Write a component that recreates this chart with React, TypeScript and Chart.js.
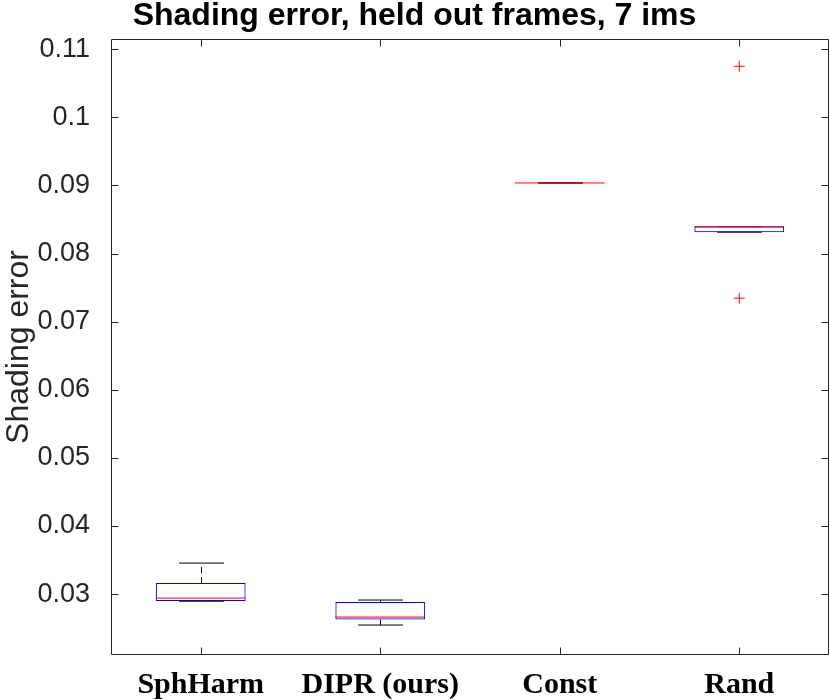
import React, { useEffect, useRef } from "react";
import { Chart, registerables } from "chart.js";

Chart.register(...registerables);

// ---- data ----
const categories = ["SphHarm", "DIPR (ours)", "Const", "Rand"];
const whiskerLow = [0.02895, 0.02545, 0.09037, 0.08314];
const quartile1 = [0.02897, 0.02627, 0.09037, 0.08314];
const medians = [0.02941, 0.02662, 0.09037, 0.08396];
const quartile3 = [0.03161, 0.02882, 0.09037, 0.08396];
const whiskerHigh = [0.03455, 0.02912, 0.09037, 0.08396];
const outlierCategories = ["Rand", "Rand"];
const outlierValues = [0.1075, 0.07345];
const yTickValues = [0.03, 0.04, 0.05, 0.06, 0.07, 0.08, 0.09, 0.1, 0.11];
const yRange = [0.02105, 0.11151];
const titleText = "Shading error, held out frames, 7 ims";
const yAxisTitle = "Shading error";

const AXIS_COLOR = "#262626";

const boxPlugin = {
  id: "boxWhiskers",
  beforeDatasetsDraw(chart: any) {
    const ctx = chart.ctx;
    const xs = chart.scales.x;
    const ys = chart.scales.y;
    const meta = chart.getDatasetMeta(0);
    ctx.save();
    ctx.strokeStyle = "#000000";
    ctx.lineWidth = 1;
    categories.forEach((_, i) => {
      const bar = meta.data[i];
      const half = bar ? bar.width / 2 : 45;
      const x = Math.round(xs.getPixelForValue(i)) + 0.5;
      const cap = half / 2;
      const yLo = ys.getPixelForValue(whiskerLow[i]);
      const yQ1 = ys.getPixelForValue(quartile1[i]);
      const yQ3 = ys.getPixelForValue(quartile3[i]);
      const yHi = ys.getPixelForValue(whiskerHigh[i]);
      ctx.setLineDash([6, 4]);
      ctx.beginPath();
      ctx.moveTo(x, yQ3);
      ctx.lineTo(x, yHi);
      ctx.moveTo(x, yQ1);
      ctx.lineTo(x, yLo);
      ctx.stroke();
      ctx.setLineDash([]);
      ctx.beginPath();
      ctx.moveTo(x - cap, yHi);
      ctx.lineTo(x + cap, yHi);
      ctx.moveTo(x - cap, yLo);
      ctx.lineTo(x + cap, yLo);
      ctx.stroke();
    });
    ctx.restore();
  },
  afterDatasetsDraw(chart: any) {
    const ctx = chart.ctx;
    const xs = chart.scales.x;
    const ys = chart.scales.y;
    const meta = chart.getDatasetMeta(0);
    ctx.save();
    ctx.strokeStyle = "#ff0000";
    ctx.lineWidth = 1;
    categories.forEach((_, i) => {
      const bar = meta.data[i];
      const half = bar ? bar.width / 2 : 45;
      const x = xs.getPixelForValue(i);
      const y = ys.getPixelForValue(medians[i]);
      ctx.beginPath();
      ctx.moveTo(x - half, y);
      ctx.lineTo(x + half, y);
      ctx.stroke();
    });
    ctx.restore();
  },
  afterDraw(chart: any) {
    const ctx = chart.ctx;
    const a = chart.chartArea;
    const xs = chart.scales.x;
    const ys = chart.scales.y;
    const L = Math.round(a.left) + 0.5;
    const R = Math.round(a.right) - 0.5;
    const T = Math.round(a.top) + 0.5;
    const B = Math.round(a.bottom) - 0.5;
    const tl = 7;
    ctx.save();
    ctx.strokeStyle = AXIS_COLOR;
    ctx.lineWidth = 1;
    ctx.beginPath();
    ctx.rect(L, T, R - L, B - T);
    ctx.stroke();
    ctx.beginPath();
    yTickValues.forEach((v) => {
      const y = Math.round(ys.getPixelForValue(v)) + 0.5;
      ctx.moveTo(L, y);
      ctx.lineTo(L + tl, y);
      ctx.moveTo(R, y);
      ctx.lineTo(R - tl, y);
    });
    categories.forEach((_, i) => {
      const x = Math.round(xs.getPixelForValue(i)) + 0.5;
      ctx.moveTo(x, B);
      ctx.lineTo(x, B - tl);
      ctx.moveTo(x, T);
      ctx.lineTo(x, T + tl);
    });
    ctx.stroke();
    ctx.restore();
  },
};

export default function App() {
  const ref = useRef<HTMLCanvasElement | null>(null);

  useEffect(() => {
    if (!ref.current) return;
    const chart = new Chart(ref.current, {
      type: "bar",
      data: {
        labels: categories,
        datasets: [
          {
            type: "bar",
            data: categories.map((_, i) => [quartile1[i], quartile3[i]]) as any,
            backgroundColor: "rgba(0,0,0,0)",
            borderColor: "#0000ff",
            borderWidth: 1,
            borderSkipped: false,
            categoryPercentage: 1,
            barPercentage: 0.5,
          } as any,
          {
            type: "scatter",
            data: outlierCategories.map((c, i) => ({ x: c, y: outlierValues[i] })) as any,
            pointStyle: "cross",
            radius: 5.5,
            borderColor: "#ff0000",
            backgroundColor: "#ff0000",
            borderWidth: 1,
            showLine: false,
          } as any,
        ],
      },
      options: {
        animation: false,
        responsive: true,
        maintainAspectRatio: false,
        layout: { autoPadding: false, padding: { left: 0, right: 1, top: 0, bottom: 0 } },
        plugins: {
          legend: { display: false },
          tooltip: { enabled: false },
          title: {
            display: true,
            text: titleText,
            color: "#000000",
            font: { family: "'Liberation Sans', Arial, sans-serif", size: 32, weight: "bold", lineHeight: 1 },
            padding: { top: 0, bottom: 7 },
          },
        },
        scales: {
          x: {
            type: "category",
            offset: true,
            grid: { display: false, drawTicks: false },
            border: { display: false },
            ticks: {
              color: "#000000",
              font: { family: "'Liberation Serif', 'Times New Roman', serif", size: 30, weight: "bold" },
              padding: 12,
              maxRotation: 0,
              autoSkip: false,
            },
            afterFit: (s: any) => {
              s.height = 45;
            },
          },
          y: {
            type: "linear",
            min: yRange[0],
            max: yRange[1],
            grid: { display: false, drawTicks: false },
            border: { display: false },
            afterBuildTicks: (s: any) => {
              s.ticks = yTickValues.map((v) => ({ value: v }));
            },
            ticks: {
              color: AXIS_COLOR,
              font: { family: "'Liberation Sans', Arial, sans-serif", size: 27 },
              padding: 21,
              callback: (v: any) => String(Number(Number(v).toFixed(2))),
            },
            title: {
              display: true,
              text: yAxisTitle,
              color: AXIS_COLOR,
              font: { family: "'Liberation Sans', Arial, sans-serif", size: 32 },
              padding: { top: 0, bottom: 0 },
            },
            afterFit: (s: any) => {
              s.width = 111;
            },
          },
        },
      },
      plugins: [boxPlugin],
    });
    return () => chart.destroy();
  }, []);

  return (
    <div style={{ position: "fixed", left: 0, top: 0, width: 830, height: 700, background: "#ffffff" }}>
      <canvas ref={ref} />
    </div>
  );
}
